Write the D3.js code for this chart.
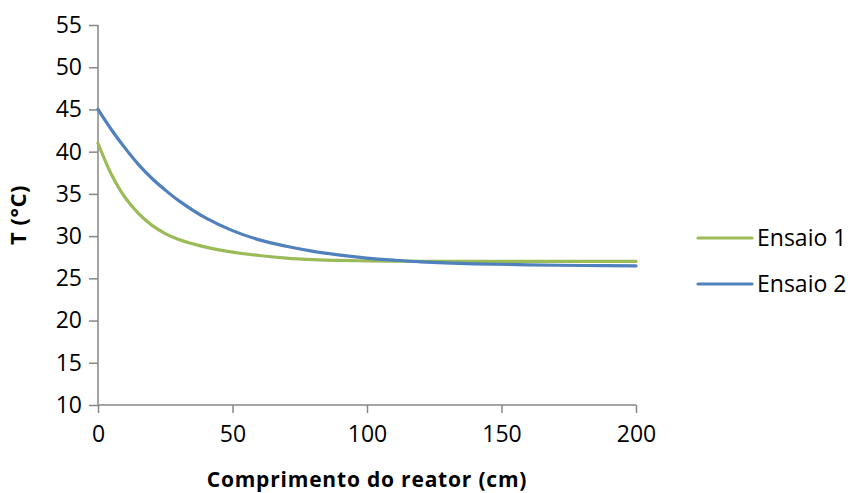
<!DOCTYPE html>
<html>
<head>
<meta charset="utf-8">
<script src="https://cdn.jsdelivr.net/npm/d3@7"></script>
<style>
  html, body { margin: 0; padding: 0; background: #fff; }
  svg { display: block; }
  text { font-family: "Open Sans", "DejaVu Sans", sans-serif; fill: #000; }
</style>
</head>
<body>
<svg id="chart" width="855" height="493"></svg>
<script>
// Reactor length positions (cm)
const lengths = [0, 5, 10, 15, 20, 25, 30, 40, 50, 60, 70, 80, 90, 100, 110, 120, 140, 160, 180, 200];
// Temperature profile, run 1 (°C)
const ensaio1 = [41.0, 37.3, 34.6, 32.7, 31.3, 30.3, 29.6, 28.7, 28.1, 27.7, 27.4, 27.22, 27.12, 27.07, 27.04, 27.02, 27.0, 27.0, 27.0, 27.0];
// Temperature profile, run 2 (°C)
const ensaio2 = [45.0, 42.6, 40.45, 38.5, 36.85, 35.45, 34.2, 32.15, 30.65, 29.55, 28.8, 28.2, 27.75, 27.4, 27.15, 26.95, 26.72, 26.6, 26.52, 26.47];
const seriesNames = ["Ensaio 1", "Ensaio 2"];
const seriesColors = ["#9bbb59", "#4f81bd"];
const xTicks = [0, 50, 100, 150, 200];
const yTicks = [10, 15, 20, 25, 30, 35, 40, 45, 50, 55];

const svg = d3.select("#chart");
const plot = { left: 98, right: 636, top: 25, bottom: 405 };

const x = d3.scaleLinear().domain([0, 200]).range([plot.left, plot.right]);
const y = d3.scaleLinear().domain([10, 55]).range([plot.bottom, plot.top]);

const axisColor = "#868686";

// Y axis
const yAxis = svg.append("g")
  .attr("transform", `translate(${plot.left},0)`)
  .call(d3.axisLeft(y).tickValues(yTicks).tickSize(9).tickPadding(7).tickFormat(d3.format("d")));
// X axis
const xAxis = svg.append("g")
  .attr("transform", `translate(0,${plot.bottom})`)
  .call(d3.axisBottom(x).tickValues(xTicks).tickSize(8).tickPadding(13).tickFormat(d3.format("d")));

[yAxis, xAxis].forEach(g => {
  g.select(".domain").attr("stroke", axisColor).attr("stroke-width", 1.5);
  g.selectAll(".tick line").attr("stroke", axisColor).attr("stroke-width", 1.5);
  g.selectAll(".tick text").attr("font-size", 23).attr("font-family", "\"Open Sans\", sans-serif").attr("fill", "#000");
});
// Plain axis lines without the outer end ticks
yAxis.select(".domain").attr("d", `M0,${plot.top}V${plot.bottom}`);
xAxis.select(".domain").attr("d", `M${plot.left},0H${plot.right}`);

// Series lines
const series = [ensaio1, ensaio2];
const line = d3.line()
  .x((d, i) => x(lengths[i]))
  .y(d => y(d))
  .curve(d3.curveCatmullRom.alpha(0.5));

series.forEach((vals, k) => {
  svg.append("path")
    .datum(vals)
    .attr("fill", "none")
    .attr("stroke", seriesColors[k])
    .attr("stroke-width", 3.2)
    .attr("stroke-linecap", "round")
    .attr("d", line);
});

// Axis titles
svg.append("text")
  .attr("x", 367)
  .attr("y", 487)
  .attr("text-anchor", "middle")
  .attr("font-size", 21)
  .attr("font-weight", "bold")
  .attr("letter-spacing", 0.8)
  .text("Comprimento do reator (cm)");

svg.append("text")
  .attr("transform", `translate(26,${(plot.top + plot.bottom) / 2}) rotate(-90)`)
  .attr("text-anchor", "middle")
  .attr("font-size", 22)
  .attr("font-weight", "bold")
  .attr("letter-spacing", 0.5)
  .text("T (°C)");

// Legend
const legend = svg.append("g").attr("transform", "translate(698,238)");
seriesNames.forEach((name, k) => {
  const g = legend.append("g").attr("transform", `translate(0,${k * 46})`);
  g.append("line")
    .attr("x1", 0).attr("x2", 54)
    .attr("stroke", seriesColors[k])
    .attr("stroke-width", 3.2)
    .attr("stroke-linecap", "round");
  g.append("text")
    .attr("x", 59)
    .attr("dy", "0.36em")
    .attr("font-size", 23)
    .text(name);
});
</script>
</body>
</html>
